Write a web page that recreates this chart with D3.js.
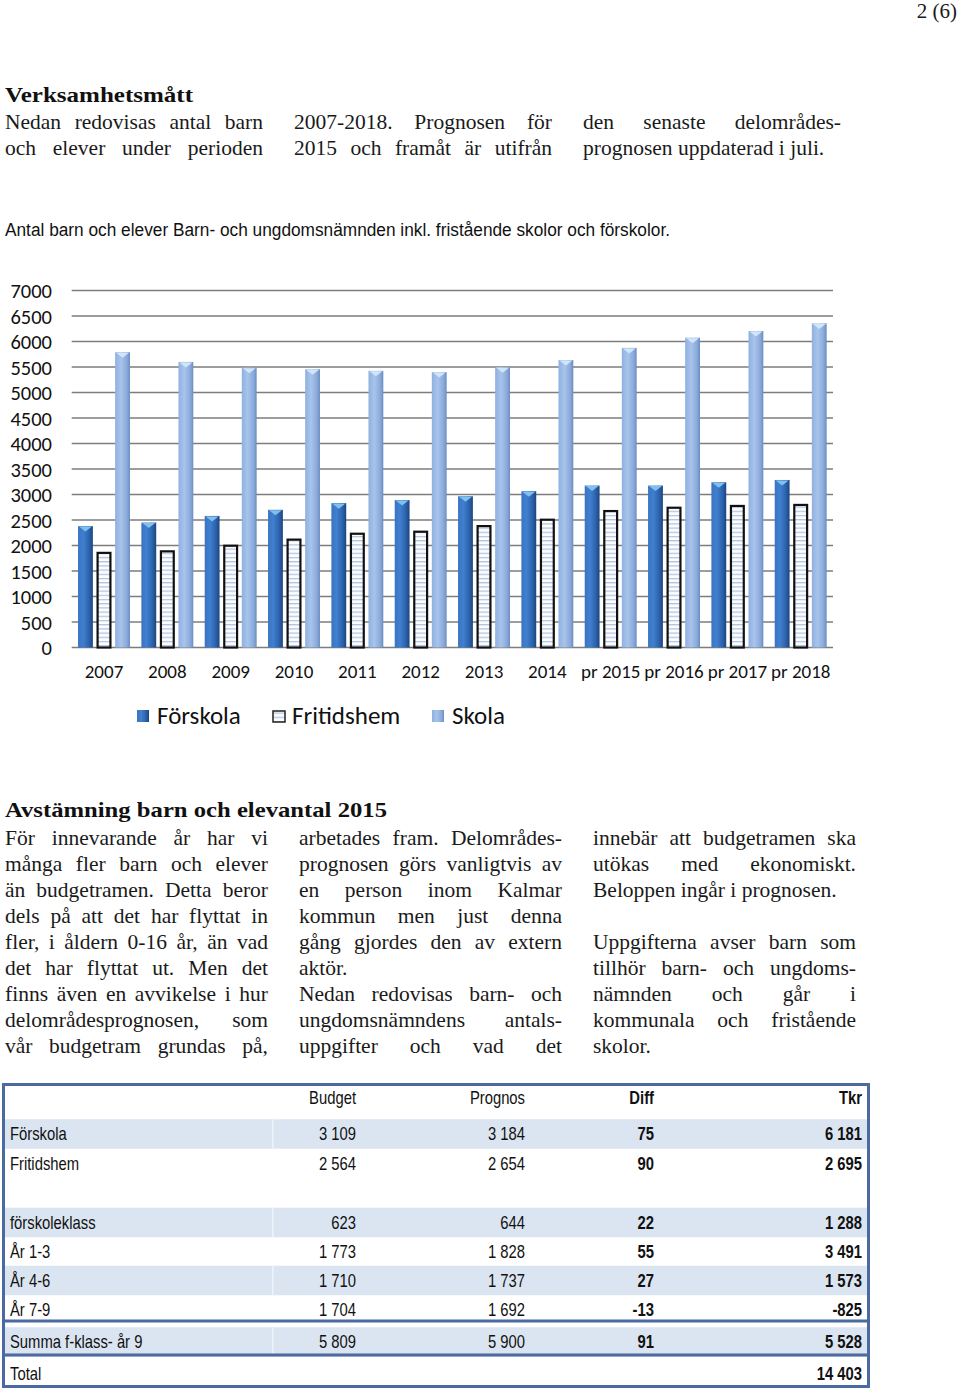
<!DOCTYPE html>
<html><head><meta charset="utf-8">
<script src="https://cdn.jsdelivr.net/npm/d3@7"></script>
<style>
html,body{margin:0;padding:0;background:#fff;}
svg{display:block;}
</style></head>
<body>
<svg id="page" width="960" height="1393"></svg>
<script>
// ---------- DATA ----------
const categories = ["2007","2008","2009","2010","2011","2012","2013","2014","pr 2015","pr 2016","pr 2017","pr 2018"];
const seriesNames = ["Förskola","Fritidshem","Skola"];
const forskola   = [2380,2450,2580,2700,2830,2890,2965,3065,3175,3175,3240,3285];
const fritidshem = [1875,1905,2015,2135,2250,2290,2400,2525,2695,2760,2795,2815];
const skola      = [5790,5600,5485,5455,5425,5400,5495,5635,5875,6075,6205,6355];
const yTicks = [0,500,1000,1500,2000,2500,3000,3500,4000,4500,5000,5500,6000,6500,7000];

const tableHeader = ["", "Budget", "Prognos", "Diff", "Tkr"];
const tableLabels = ["Förskola","Fritidshem","","förskoleklass","År 1-3","År 4-6","År 7-9","Summa f-klass- år 9","Total"];
const tableBudget = ["3 109","2 564","","623","1 773","1 710","1 704","5 809",""];
const tablePrognos= ["3 184","2 654","","644","1 828","1 737","1 692","5 900",""];
const tableDiff   = ["75","90","","22","55","27","-13","91",""];
const tableTkr    = ["6 181","2 695","","1 288","3 491","1 573","-825","5 528","14 403"];

const introCols = [
  [["Nedan redovisas antal barn",1],["och elever under perioden",1]],
  [["2007-2018. Prognosen för",1],["2015 och framåt är utifrån",1]],
  [["den senaste delområdes-",1],["prognosen uppdaterad i juli.",0]]
];
const bodyCols = [
  [["För innevarande år har vi",1],["många fler barn och elever",1],["än budgetramen. Detta beror",1],["dels på att det har flyttat in",1],["fler, i åldern 0-16 år, än vad",1],["det har flyttat ut. Men det",1],["finns även en avvikelse i hur",1],["delområdesprognosen, som",1],["vår budgetram grundas på,",1]],
  [["arbetades fram. Delområdes-",1],["prognosen görs vanligtvis av",1],["en person inom Kalmar",1],["kommun men just denna",1],["gång gjordes den av extern",1],["aktör.",0],["Nedan redovisas barn- och",1],["ungdomsnämndens antals-",1],["uppgifter och vad det",1]],
  [["innebär att budgetramen ska",1],["utökas med ekonomiskt.",1],["Beloppen ingår i prognosen.",0],["",0],["Uppgifterna avser barn som",1],["tillhör barn- och ungdoms-",1],["nämnden och går i",1],["kommunala och fristående",1],["skolor.",0]]
];

// ---------- PAGE ----------
const svg = d3.select("#page");
svg.append("rect").attr("width",960).attr("height",1393).attr("fill","#fff");
const SERIF = "'Liberation Serif','DejaVu Serif',serif";
const NARROW = "'Liberation Sans','Arial',sans-serif";
const CAL = "Carlito, Lato, 'Open Sans', sans-serif";
const BODY = 21.5;

function justifyLine(g, text, x0, width, y, justify, size){
  const words = text.split(" ").filter(w=>w.length);
  if(!words.length) return;
  const els = words.map(w => g.append("text").attr("y",y).attr("font-family",SERIF)
      .attr("font-size",size).attr("fill","#1a1a1a").text(w));
  let widths = els.map(e => e.node().getComputedTextLength());
  let total = d3.sum(widths);
  const minGap = size*0.2;
  const need = total + minGap*(words.length-1);
  if(need > width){
    const k = (width - minGap*(words.length-1))/total;
    els.forEach((e,i)=>{ e.attr("textLength",widths[i]*k).attr("lengthAdjust","spacingAndGlyphs"); });
    widths = widths.map(w=>w*k); total = d3.sum(widths);
  }
  let gap = size*0.25;
  if(justify && words.length>1) gap = (width-total)/(words.length-1);
  let x = x0;
  els.forEach((e,i)=>{ e.attr("x",x); x += widths[i]+gap; });
}

// page number
svg.append("text").attr("x",957).attr("y",18).attr("text-anchor","end")
  .attr("font-family",SERIF).attr("font-size",21).attr("fill","#1a1a1a").text("2 (6)");

// heading 1
svg.append("text").attr("x",5).attr("y",102).attr("font-family",SERIF).attr("font-weight","bold")
  .attr("font-size",22).attr("textLength",188).attr("lengthAdjust","spacingAndGlyphs").attr("fill","#111").text("Verksamhetsmått");
const introX = [5,294,583];
introCols.forEach((col,ci)=>{
  col.forEach((ln,li)=> justifyLine(svg, ln[0], introX[ci], 258, 129+li*26, ln[1], BODY));
});

// subtitle
svg.append("text").attr("x",5).attr("y",236).attr("font-family",NARROW).attr("font-size",18)
  .attr("textLength",665).attr("lengthAdjust","spacingAndGlyphs").attr("fill","#111")
  .text("Antal barn och elever Barn- och ungdomsnämnden inkl. fristående skolor och förskolor.");

// ---------- CHART ----------
const defs = svg.append("defs");
function hGrad(id, stops){
  const g = defs.append("linearGradient").attr("id",id).attr("x1","0").attr("x2","1").attr("y1","0").attr("y2","0");
  stops.forEach(s=> g.append("stop").attr("offset",s[0]).attr("stop-color",s[1]));
}
hGrad("gF", [[0,"#3a74c0"],[0.35,"#4080d0"],[0.75,"#2c62ab"],[1,"#1c4580"]]);
hGrad("gS", [[0,"#8fb0df"],[0.4,"#a8c4ec"],[0.8,"#89a9da"],[1,"#6a8cc0"]]);
const pat = defs.append("pattern").attr("id","pH").attr("patternUnits","userSpaceOnUse")
  .attr("width",6).attr("height",4.2);
pat.append("rect").attr("width",6).attr("height",4.2).attr("fill","#fbfcff");
pat.append("rect").attr("y",2.6).attr("width",6).attr("height",1.1).attr("fill","#a9bcd8");

const y = d3.scaleLinear().domain([0,7000]).range([647.5,290.5]);
const x = d3.scaleBand().domain(categories).range([71.7,833]).paddingInner(0.18).paddingOuter(0.1);
const xs = d3.scaleBand().domain(seriesNames).range([0,x.bandwidth()]).paddingInner(0.2);

const chart = svg.append("g");
chart.selectAll("line.grid").data(yTicks).join("line")
  .attr("x1",71.7).attr("x2",833).attr("y1",d=>y(d)).attr("y2",d=>y(d))
  .attr("stroke","#7d7d7d").attr("stroke-width",1.5);
const yAxis = d3.axisLeft(y).tickValues(yTicks).tickSize(0).tickPadding(0).tickFormat(d3.format("d"));
const ya = chart.append("g").attr("transform","translate(52,0)").call(yAxis);
ya.select(".domain").remove();
ya.selectAll("text").attr("font-family",CAL).attr("font-size",20.5).attr("fill","#111").attr("dy","0.35em");

const data = categories.map((c,i)=>({c, vals:[forskola[i],fritidshem[i],skola[i]]}));
const fills = ["url(#gF)","url(#pH)","url(#gS)"];
const groups = chart.selectAll("g.cat").data(data).join("g").attr("class","cat")
  .attr("transform",d=>`translate(${x(d.c)},0)`);
groups.each(function(d){
  const g = d3.select(this);
  d.vals.forEach((v,si)=>{
    const bx = xs(seriesNames[si]), bw = xs.bandwidth();
    if(si===1){
      g.append("rect").attr("x",bx+1).attr("y",y(v)+1).attr("width",bw-2).attr("height",y(0)-y(v)-1)
        .attr("fill",fills[si]).attr("stroke","#111").attr("stroke-width",2.2);
    } else {
      g.append("rect").attr("x",bx).attr("y",y(v)).attr("width",bw).attr("height",y(0)-y(v))
        .attr("fill",fills[si]);
      g.append("path").attr("d",`M${bx+1},${y(v)+0.5} L${bx+bw-1},${y(v)+0.5} L${bx+bw/2},${y(v)+5.5} Z`)
        .attr("fill", si===0 ? "#7fc0ee" : "#cfe6fa");
    }
  });
});
const xAxis = d3.axisBottom(x).tickSize(0).tickPadding(0);
const xa = chart.append("g").attr("transform","translate(0,678)").call(xAxis);
xa.select(".domain").remove();
xa.selectAll("text").attr("font-family",CAL).attr("font-size",19).attr("fill","#111").attr("dy","0");

const legX = [137,272,432];
const leg = chart.selectAll("g.leg").data(seriesNames).join("g").attr("class","leg")
  .attr("transform",(d,i)=>`translate(${legX[i]},710)`);
leg.append("rect").attr("x",(d,i)=>i===1?1:0).attr("y",(d,i)=>i===1?1:0)
  .attr("width",12).attr("height",(d,i)=>i===1?11:12)
  .attr("fill",(d,i)=>fills[i]).attr("stroke",(d,i)=>i===1?"#222":"none").attr("stroke-width",1.5);
leg.append("text").attr("x",20).attr("y",14).attr("font-family",CAL).attr("font-size",25)
  .attr("fill","#111").text(d=>d);

// ---------- SECOND SECTION ----------
svg.append("text").attr("x",5).attr("y",817).attr("font-family",SERIF).attr("font-weight","bold")
  .attr("font-size",22).attr("textLength",382).attr("lengthAdjust","spacingAndGlyphs").attr("fill","#111")
  .text("Avstämning barn och elevantal 2015");
const bodyX = [5,299,593];
bodyCols.forEach((col,ci)=>{
  col.forEach((ln,li)=> justifyLine(svg, ln[0], bodyX[ci], 263, 845+li*26, ln[1], BODY));
});

// ---------- TABLE ----------
const tbl = svg.append("g");
const rowY = [1134,1163.5,1193,1222.5,1251.5,1280.5,1309.5,1342,1374];
const shaded = [1,0,0,1,0,1,0,1,0];
const rowH = 29.5;
const shIdx = tableLabels.map((d,i)=>i).filter(i=>shaded[i]);
tbl.selectAll("rect.sh").data(shIdx).join("rect")
  .attr("x",5).attr("width",863).attr("y",i=>rowY[i]-rowH/2).attr("height",rowH).attr("fill","#dbe5f1");
tbl.selectAll("rect.gap").data(shIdx).join("rect")
  .attr("x",272).attr("width",1.5).attr("y",i=>rowY[i]-rowH/2).attr("height",rowH).attr("fill","#eef3f9");
const bc = "#4a6aa0";
tbl.append("rect").attr("x",3.5).attr("y",1084.5).attr("width",865).attr("height",302)
  .attr("fill","none").attr("stroke",bc).attr("stroke-width",3);
[1321,1355].forEach(yy=> tbl.append("line").attr("x1",3.5).attr("x2",868.5).attr("y1",yy).attr("y2",yy)
  .attr("stroke",bc).attr("stroke-width",3));

const colX = [10,356,525,654,862];
const colBold = [false,false,false,true,true];
const SX = 0.8;
tableHeader.forEach((h,ci)=>{
  if(!h) return;
  tbl.append("text").attr("transform",`translate(${colX[ci]},1098) scale(${SX},1)`).attr("dy","0.35em").attr("text-anchor","end")
    .attr("font-family",NARROW).attr("font-size",18.5).attr("font-weight",colBold[ci]?"bold":"normal")
    .attr("fill","#111").text(h);
});
const cols = [tableLabels, tableBudget, tablePrognos, tableDiff, tableTkr];
cols.forEach((arr,ci)=>{
  tbl.selectAll(null).data(arr).join("text")
    .attr("transform",(d,i)=>`translate(${colX[ci]},${rowY[i]}) scale(${SX},1)`).attr("dy","0.35em")
    .attr("text-anchor",ci===0?"start":"end")
    .attr("font-family",NARROW).attr("font-size",18.5).attr("font-weight",colBold[ci]?"bold":"normal")
    .attr("fill","#111").text(d=>d);
});
</script>
</body></html>
